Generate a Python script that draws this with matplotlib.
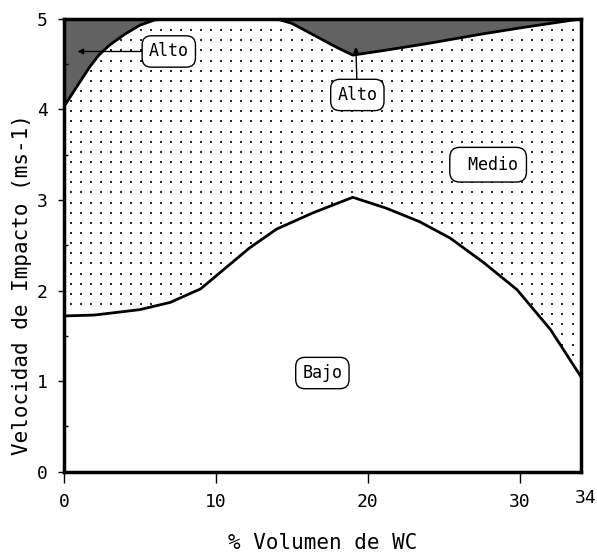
import numpy as np
import matplotlib.pyplot as plt
from matplotlib import transforms

# Frontera superior (zona Alto) y frontera inferior (zona Bajo)
x_alto = [0, 0.5, 1, 1.7, 2.3, 3, 4, 5, 6, 7, 10, 14, 15, 16, 17, 18, 19, 21, 24, 27.4, 30, 34]
y_alto = [4.03, 4.16, 4.29, 4.47, 4.6, 4.71, 4.83, 4.93, 4.99, 5.0, 5.0, 5.0, 4.95, 4.86, 4.77, 4.68, 4.6, 4.65, 4.73, 4.83, 4.9, 5.0]

x_bajo = [0, 2, 5, 7, 9, 12.2, 14, 16.4, 19, 21.2, 23.4, 25.4, 27.6, 29.8, 32, 34]
y_bajo = [1.72, 1.73, 1.79, 1.87, 2.02, 2.47, 2.68, 2.86, 3.03, 2.91, 2.76, 2.58, 2.31, 2.01, 1.57, 1.05]

xticks = [0, 10, 20, 30, 34]
yticks = [0, 1, 2, 3, 4, 5]

fuente = 'DejaVu Sans Mono'

fig = plt.figure(figsize=(5.97, 5.55), dpi=100)
ax = fig.add_axes([0.107, 0.150, 0.866, 0.816])

xx = np.linspace(0, 34, 800)
alto_i = np.interp(xx, x_alto, y_alto)

# zona Alto (oscura)
ax.fill_between(xx, alto_i, 5, color='#626262', lw=0)

# punteado de la zona Medio
gx, gy = np.meshgrid(np.arange(0.45, 34, 0.66), np.arange(0.06, 5, 0.112))
lo = np.interp(gx, x_bajo, y_bajo)
hi = np.interp(gx, x_alto, y_alto)
m = (gy > lo + 0.03) & (gy < hi - 0.03)
ax.plot(gx[m], gy[m], ls='none', marker='s', ms=1.5, color='#2a2a2a', mew=0)

ax.plot(x_alto, y_alto, color='black', lw=2)
ax.plot(x_bajo, y_bajo, color='black', lw=2)

caja = dict(boxstyle='round,pad=0.4,rounding_size=0.55', fc='white', ec='black', lw=1)
flecha = dict(arrowstyle='-|>', color='black', lw=1, mutation_scale=8, shrinkA=0, shrinkB=0)
ax.annotate('Alto', xy=(0.9, 4.64), xytext=(6.9, 4.64), ha='center', va='center',
            fontsize=12, family=fuente, bbox=caja, arrowprops=flecha)
ax.annotate('Alto', xy=(19.2, 4.69), xytext=(19.3, 4.16), ha='center', va='center',
            fontsize=12, family=fuente, bbox=caja, arrowprops=flecha)
ax.text(27.9, 3.39, ' Medio', ha='center', va='center', fontsize=12, family=fuente,
        bbox=dict(boxstyle='round,pad=0.5,rounding_size=0.6', fc='white', ec='black', lw=1))
ax.text(17.0, 1.09, 'Bajo', ha='center', va='center', fontsize=12, family=fuente, bbox=caja)

ax.set_xlim(0, 34)
ax.set_ylim(0, 5)
ax.set_xticks(xticks)
ax.set_yticks(yticks)
ax.set_yticks([0.5, 1.5, 2.5, 3.5, 4.5], minor=True)
ax.tick_params(axis='x', which='major', direction='out', length=8, width=1, pad=7, labelsize=13)
ax.tick_params(axis='y', which='major', direction='out', length=4.5, width=1, pad=7, labelsize=13)
ax.tick_params(axis='y', which='minor', direction='in', length=3, width=1)
for lab in ax.get_xticklabels() + ax.get_yticklabels():
    lab.set_family(fuente)
# el 34 va sin marca, algo a la derecha y arriba
ax.xaxis.get_major_ticks()[-1].tick1line.set_visible(False)
lab34 = ax.get_xticklabels()[-1]
lab34.set_transform(lab34.get_transform() + transforms.ScaledTranslation(5 / 100, 4 / 100, fig.dpi_scale_trans))
for s in ax.spines.values():
    s.set_linewidth(2.5)

ax.set_xlabel('% Volumen de WC', fontsize=15, family=fuente)
ax.xaxis.set_label_coords(0.5, -0.135)
ax.set_ylabel('Velocidad de Impacto (ms-1)', fontsize=15, family=fuente)
ax.yaxis.set_label_coords(-0.062, 0.413)

plt.savefig('out.png', dpi=100)
